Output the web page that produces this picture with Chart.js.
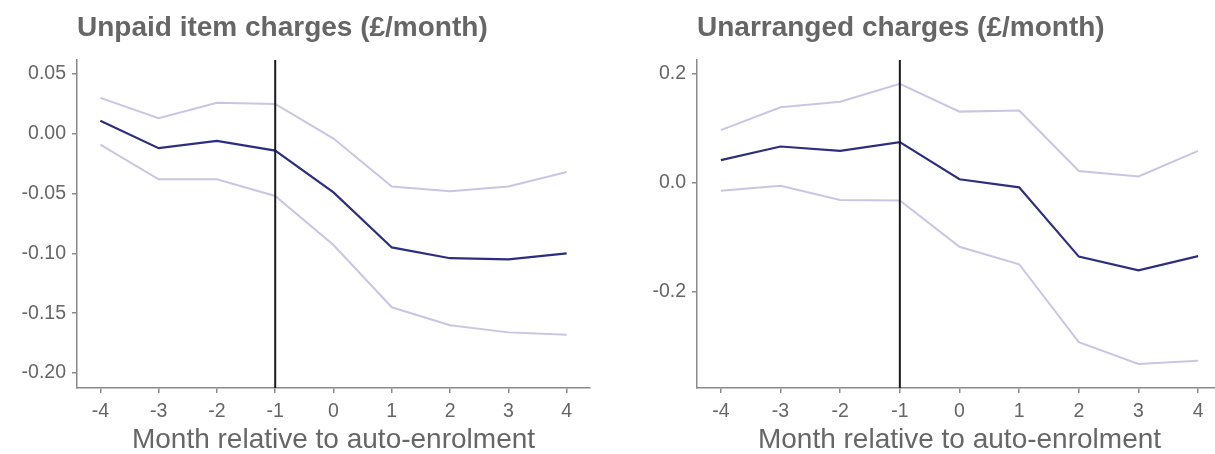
<!DOCTYPE html>
<html>
<head>
<meta charset="utf-8">
<script src="https://cdn.jsdelivr.net/npm/chart.js@4/dist/chart.umd.min.js"></script>
<style>
  html, body { margin: 0; padding: 0; background: #fff; overflow: hidden; }
  body { width: 1215px; height: 454px; position: relative; }
  .wrap { position: absolute; top: 0; height: 454px; }
  #w1 { left: 0; width: 610px; }
  #w2 { left: 610px; width: 620px; }
</style>
</head>
<body>
<div class="wrap" id="w1"><canvas id="c1"></canvas></div>
<div class="wrap" id="w2"><canvas id="c2"></canvas></div>
<script>
// ---- data ----
const months = [-4, -3, -2, -1, 0, 1, 2, 3, 4];
const eventMonth = -1;

const unpaidEstimate = [0.011, -0.012, -0.006, -0.014, -0.049, -0.095, -0.104, -0.105, -0.100];
const unpaidUpper    = [0.030, 0.013, 0.026, 0.025, -0.004, -0.044, -0.048, -0.044, -0.032];
const unpaidLower    = [-0.009, -0.038, -0.038, -0.052, -0.093, -0.145, -0.160, -0.166, -0.168];
const unpaidTicks    = [-0.20, -0.15, -0.10, -0.05, 0.00, 0.05];

const unarrEstimate = [0.042, 0.067, 0.059, 0.075, 0.007, -0.008, -0.135, -0.160, -0.134];
const unarrUpper    = [0.097, 0.139, 0.149, 0.182, 0.131, 0.133, 0.022, 0.012, 0.059];
const unarrLower    = [-0.014, -0.005, -0.031, -0.032, -0.117, -0.149, -0.292, -0.332, -0.326];
const unarrTicks    = [-0.2, 0.0, 0.2];

const titles = ["Unpaid item charges (£/month)", "Unarranged charges (£/month)"];
const xTitle = "Month relative to auto-enrolment";

// ---- style ----
const TEXT = '#666666';
const AXIS = '#8a8a8a';
const DARK = '#2e2e7e';
const LIGHT = '#c8c6e3';
const FONT = "'Liberation Sans', Arial, Helvetica, sans-serif";

function pts(ys) { return months.map((m, i) => ({ x: m, y: ys[i] })); }

function makeChart(id, est, up, lo, ticks, yMin, yMax, decimals, title, yWidth, padRight) {
  const ctx = document.getElementById(id);
  const lineDs = (data, color, order, w) => ({
    data, borderColor: color, borderWidth: w, pointRadius: 0, tension: 0,
    fill: false, order, clip: false
  });
  return new Chart(ctx, {
    type: 'line',
    data: {
      datasets: [
        lineDs(pts(up), LIGHT, 3, 2),
        lineDs(pts(lo), LIGHT, 3, 2),
        lineDs(pts(est), DARK, 2, 2.2),
        { data: [{ x: eventMonth, y: yMin }, { x: eventMonth, y: yMax }],
          borderColor: '#1a1a1a', borderWidth: 2, pointRadius: 0, order: 1 }
      ]
    },
    options: {
      responsive: true,
      maintainAspectRatio: false,
      animation: false,
      events: [],
      layout: { padding: { left: 0, right: padRight, top: 0, bottom: 0 } },
      plugins: {
        legend: { display: false },
        tooltip: { enabled: false },
        title: {
          display: true, text: title, align: 'start', fullSize: false,
          color: TEXT, font: { family: FONT, size: 28, weight: 'bold', lineHeight: 1.2 },
          padding: { top: 11, bottom: 15.4 }
        }
      },
      scales: {
        x: {
          type: 'linear', min: -4.4, max: 4.4,
          afterBuildTicks: s => { s.ticks = months.map(v => ({ value: v })); },
          afterFit: s => { s.height = 66; },
          grid: { display: true, drawOnChartArea: false, drawTicks: true, tickLength: 5, color: AXIS, lineWidth: 1.5 },
          border: { display: true, color: AXIS, width: 1.5 },
          ticks: { color: TEXT, font: { family: FONT, size: 19.5 }, padding: 7, maxRotation: 0,
                   callback: v => String(v) },
          title: { display: true, text: xTitle, color: TEXT,
                   font: { family: FONT, size: 28, lineHeight: 1 }, padding: { top: 0, bottom: 0 } }
        },
        y: {
          type: 'linear', min: yMin, max: yMax,
          afterBuildTicks: s => { s.ticks = ticks.map(v => ({ value: v })); },
          afterFit: s => { s.width = yWidth; },
          grid: { display: true, drawOnChartArea: false, drawTicks: true, tickLength: 5, color: AXIS, lineWidth: 1.5 },
          border: { display: true, color: AXIS, width: 1.5 },
          ticks: { color: TEXT, font: { family: FONT, size: 19.5 }, padding: 6,
                   callback: v => Number(v).toFixed(decimals) }
        }
      }
    }
  });
}

makeChart('c1', unpaidEstimate, unpaidUpper, unpaidLower, unpaidTicks, -0.2125, 0.0617, 2, titles[0], 77, 20);
makeChart('c2', unarrEstimate, unarrUpper, unarrLower, unarrTicks, -0.376, 0.2257, 1, titles[1], 87, 8);
</script>
</body>
</html>
